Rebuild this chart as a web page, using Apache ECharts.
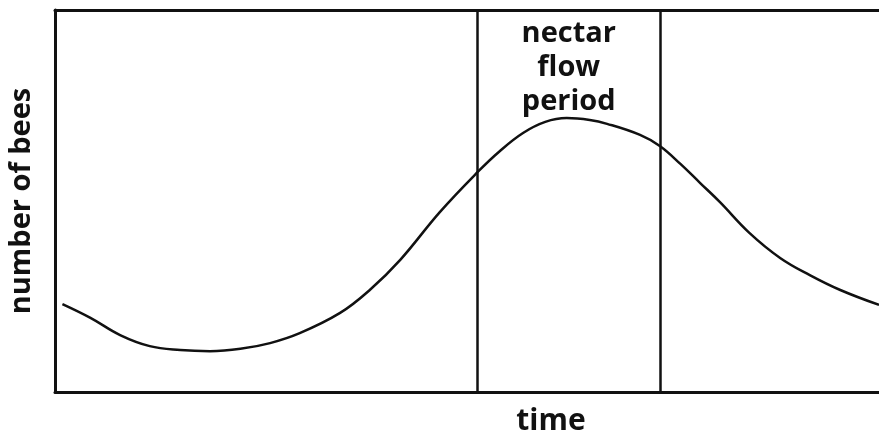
<!DOCTYPE html>
<html>
<head>
<meta charset="utf-8">
<script src="https://cdn.jsdelivr.net/npm/echarts@6/dist/echarts.min.js"></script>
<style>
  html, body { margin: 0; padding: 0; background: #fff; }
  #chart { width: 879px; height: 439px; }
</style>
</head>
<body>
<div id="chart"></div>
<script>
  // time (arbitrary units 0-100) and number of bees (0-100)
  var time = [0.9, 4.3, 7.9, 11.5, 15.2, 18.8, 22.5, 26.1, 29.7, 34.6, 38.2, 41.9, 46.7, 51.3, 54.0,
              56.8, 59.5, 62.1, 64.9, 67.0, 71.0, 73.4, 75.9, 78.3, 80.7, 84.3, 88.0, 91.6, 95.3, 100];
  var bees = [23.0, 19.4, 14.9, 12.0, 11.0, 10.7, 11.3, 12.8, 15.4, 20.7, 26.7, 34.6, 47.1, 57.6, 63.1,
              67.8, 70.7, 71.7, 71.2, 70.2, 67.3, 64.4, 59.7, 54.7, 49.7, 41.6, 35.1, 30.6, 26.7, 22.8];
  var nectarStart = 51.3;
  var nectarEnd = 73.4;

  var font = '"Open Sans", Lato, sans-serif';
  var points = time.map(function (t, i) { return [t, bees[i]]; });
  var frame = { show: true, onZero: false, lineStyle: { color: '#111', width: 3 } };

  var chart = echarts.init(document.getElementById('chart'));
  var option = {
    animation: false,
    backgroundColor: '#fff',
    grid: { left: 55, right: 0, top: 10, bottom: 47, containLabel: false, outerBoundsMode: 'none' },
    xAxis: [{
      type: 'value', min: 0, max: 100, position: 'bottom',
      axisLine: frame, axisTick: { show: false },
      axisLabel: { show: false }, splitLine: { show: false }
    }, {
      type: 'value', min: 0, max: 100, position: 'top',
      axisLine: frame, axisTick: { show: false },
      axisLabel: { show: false }, splitLine: { show: false }
    }],
    yAxis: {
      type: 'value', min: 0, max: 100,
      name: 'number of bees', nameLocation: 'middle', nameGap: 19,
      nameTextStyle: { fontFamily: font, fontWeight: 'bold', fontSize: 29, color: '#111' },
      axisLine: frame, axisTick: { show: false },
      axisLabel: { show: false }, splitLine: { show: false }
    },
    graphic: [{
      type: 'text', x: 551, y: 421,
      style: { text: 'time', font: 'bold 30px ' + font, fill: '#111', textAlign: 'center', textVerticalAlign: 'middle' }
    }],
    series: [{
      type: 'line',
      data: points,
      smooth: 0.4,
      symbol: 'none',
      lineStyle: { color: '#111', width: 2.5 },
      markLine: {
        silent: true,
        symbol: 'none',
        label: { show: false },
        lineStyle: { color: '#111', width: 2.5, type: 'solid' },
        data: [{ xAxis: nectarStart }, { xAxis: nectarEnd }]
      },
      markArea: {
        silent: true,
        itemStyle: { color: 'rgba(0,0,0,0)' },
        label: {
          show: true, position: 'insideTop', distance: 7,
          formatter: 'nectar\nflow\nperiod',
          fontFamily: font, fontWeight: 'bold', fontSize: 29, lineHeight: 34, color: '#111'
        },
        data: [[{ xAxis: nectarStart }, { xAxis: nectarEnd }]]
      }
    }]
  };
  chart.setOption(option);
</script>
</body>
</html>
